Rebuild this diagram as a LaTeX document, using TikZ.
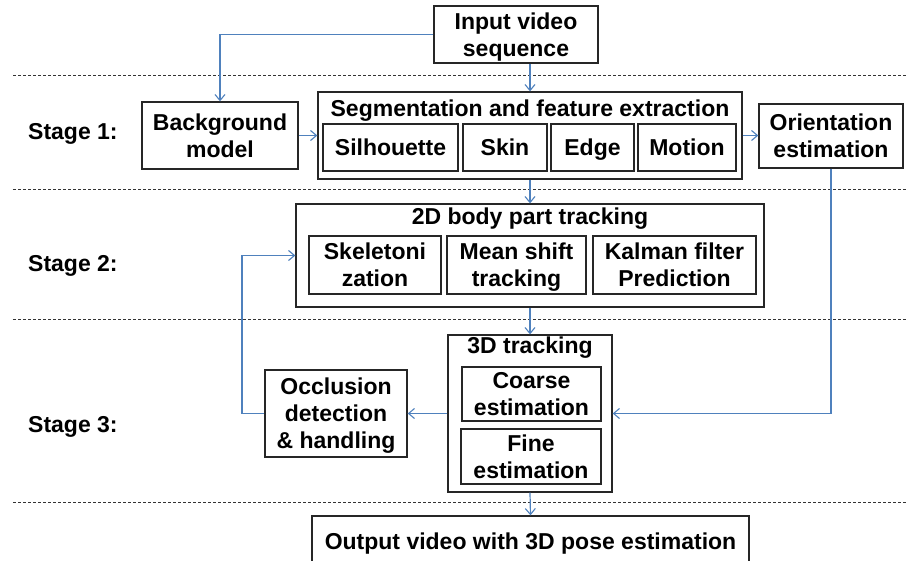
\documentclass[tikz,border=0pt]{standalone}
\usepackage{fontspec}
\setmainfont{Liberation Sans}
\usetikzlibrary{arrows.meta}
\definecolor{linkblue}{RGB}{79,129,189}
\tikzset{
  lbl/.style={font=\bfseries\fontsize{23}{27}\selectfont, align=center, inner sep=0pt},
  blk/.style={lbl, draw=black!85, line width=1.3pt, rectangle, text depth=0pt},
  link/.style={draw=linkblue, line width=1.2pt, -{Straight Barb[length=6pt,width=10pt,line width=1.1pt]}},
  sep/.style={draw=black!80, line width=0.9pt, dash pattern=on 3pt off 2pt}
}
% a box given by its centre, width and height (all in pixels)
\newcommand{\blkat}[6][]{\node[blk,minimum width=#4pt,minimum height=#5pt,#1] (#2) at (#3) {#6};}
\begin{document}
\begin{tikzpicture}[x=1pt,y=-1pt]
\useasboundingbox (0,0) rectangle (908,561);

% stage separators
\draw[sep] (13,75) -- (908,75);
\draw[sep] (13,189) -- (908,189);
\draw[sep] (13,319) -- (908,319);
\draw[sep] (13,502) -- (908,502);

% stage labels
\node[lbl,anchor=base west] (st1) at (28,140) {Stage 1:};
\node[lbl,anchor=base west] (st2) at (28,272) {Stage 2:};
\node[lbl,anchor=base west] (st3) at (28,432) {Stage 3:};

% input
\blkat{inp}{516,34.5}{164}{57}{Input video\\sequence}

% stage 1
\blkat{bg}{220,135.5}{156}{67}{Background\\model}
\blkat{seg}{530,135.5}{424}{87}{}
\node[lbl,anchor=base] (segt) at (530,117) {Segmentation and feature extraction};
\blkat{sil}{390.5,147.5}{135}{47}{Silhouette}
\blkat{skin}{505,147.5}{84}{47}{Skin}
\blkat{edge}{592.5,147.5}{83}{47}{Edge}
\blkat{mot}{687,147.5}{98}{47}{Motion}
\blkat{ori}{831,136}{144}{64}{Orientation\\estimation}

% stage 2
\blkat{trkA}{530,255.5}{468}{103}{}
\node[lbl,anchor=base] (trkAt) at (530,225) {2D body part tracking};
\blkat{skel}{375,265}{132}{58}{Skeletoni\\zation}
\blkat{mean}{516.5,265}{139}{58}{Mean shift\\tracking}
\blkat{kal}{674.5,265}{163}{58}{Kalman filter\\Prediction}

% stage 3
\blkat{trkB}{530,413.5}{164}{157}{}
\node[lbl,anchor=base] (trkBt) at (530,354) {3D tracking};
\blkat{coarse}{531.5,394}{139}{54}{Coarse\\estimation}
\blkat{fine}{531,456.5}{140}{55}{Fine\\estimation}
\blkat{occ}{336,413.5}{142}{87}{Occlusion\\detection\\\& handling}

% output
\blkat{out}{530.5,541}{437}{50}{Output video with 3D pose estimation}

% connectors
\draw[link] (inp.west) -| (bg.north);
\draw[link] (inp.south -| seg.north) -- (seg.north);
\draw[link] (bg.east) -- (bg.east -| seg.west);
\draw[link] (seg.east) -- (seg.east -| ori.west);
\draw[link] (seg.south) -- (trkA.north);
\draw[link] (trkA.south) -- (trkB.north);
\draw[link] (ori.south) |- (trkB.east);
\draw[link] (trkB.west) -- (occ.east);
\coordinate (back) at (242,413.5);
\draw[link] (occ.west) -- (back) |- (trkA.west);
\draw[link] (trkB.south) -- (out.north);
\end{tikzpicture}
\end{document}
